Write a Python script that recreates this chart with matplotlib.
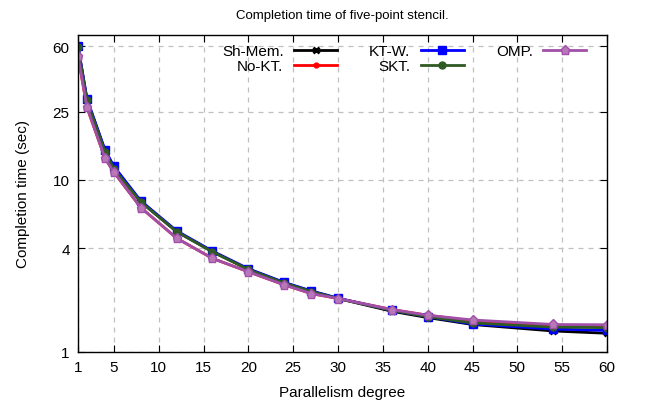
import matplotlib
matplotlib.use("Agg")
import matplotlib.pyplot as plt
from matplotlib.ticker import FixedLocator, FixedFormatter, NullLocator

plt.rcParams['font.family'] = ['Liberation Sans', 'DejaVu Sans']

x = [1, 2, 4, 5, 8, 12, 16, 20, 24, 27, 30, 36, 40, 45, 54, 60]
sh_mem = [59.5, 29.3, 14.8, 11.8, 7.45, 5.0, 3.82, 3.02, 2.52, 2.25, 2.04, 1.72, 1.58, 1.44, 1.32, 1.28]
no_kt = [52.5, 26.4, 13.4, 11.1, 6.9, 4.58, 3.49, 2.92, 2.45, 2.18, 2.04, 1.76, 1.63, 1.51, 1.42, 1.42]
kt_w = [60.0, 29.6, 15.0, 12.0, 7.55, 5.05, 3.85, 3.04, 2.53, 2.26, 2.05, 1.74, 1.60, 1.45, 1.355, 1.33]
skt = [59.0, 29.0, 14.6, 11.6, 7.44, 5.0, 3.81, 3.01, 2.51, 2.24, 2.04, 1.74, 1.60, 1.47, 1.39, 1.38]
omp = [52.5, 26.5, 13.4, 11.1, 6.9, 4.58, 3.49, 2.92, 2.45, 2.18, 2.04, 1.76, 1.63, 1.53, 1.44, 1.435]

xticks = [1, 5, 10, 15, 20, 25, 30, 35, 40, 45, 50, 55, 60]
yticks = [1, 4, 10, 25, 60]
ytick_labels = ["1", "4", "10", "25", "60"]

fig = plt.figure(figsize=(6.45, 4.10), dpi=100)
ax = fig.add_axes([78/645, 1 - 352.7/410, (607-78)/645, (352.7-35.7)/410])

lw = 2.0
ax.plot(x, sh_mem, color='black', lw=lw, marker='x', ms=5, mew=2, label='Sh-Mem.')
ax.plot(x, no_kt, color='#ff0000', lw=lw, marker='o', ms=3.5, label='No-KT.')
ax.plot(x, kt_w, color='#0000ff', lw=lw, marker='s', ms=5.5, label='KT-W.')
ax.plot(x, skt, color='#2f5a24', lw=lw, marker='o', ms=5, label='SKT.')
ax.plot(x, omp, color='#a050a8', lw=lw, marker='p', ms=6.5, mfc='#b878b8', mec='#a050a8', label='OMP.')

ax.set_yscale('log')
ax.set_xlim(1, 60)
ax.set_ylim(1, 70)
ax.xaxis.set_major_locator(FixedLocator(xticks))
ax.yaxis.set_major_locator(FixedLocator(yticks))
ax.yaxis.set_major_formatter(FixedFormatter(ytick_labels))
ax.yaxis.set_minor_locator(NullLocator())
ax.tick_params(axis='both', which='both', direction='in', top=True, right=True,
               labelsize=11, length=5, pad=6)
ax.grid(True, color='#c0c0c0', linestyle=(0, (4, 4)), linewidth=0.9)
for s in ax.spines.values():
    s.set_linewidth(1.0)

ax.set_title('Completion time of five-point stencil.', fontsize=9.5, pad=12)
ax.set_xlabel('Parallelism degree', fontsize=11, labelpad=8)
ax.set_ylabel('Completion time (sec)', fontsize=11, labelpad=16)

ax.legend(loc='upper right', ncol=3, markerfirst=False, frameon=False,
          fontsize=11, handlelength=2.8, handletextpad=0.7, columnspacing=2.1,
          labelspacing=0.1, borderaxespad=0.2, bbox_to_anchor=(0.978, 1.0))

fig.savefig('out.png', dpi=100)
